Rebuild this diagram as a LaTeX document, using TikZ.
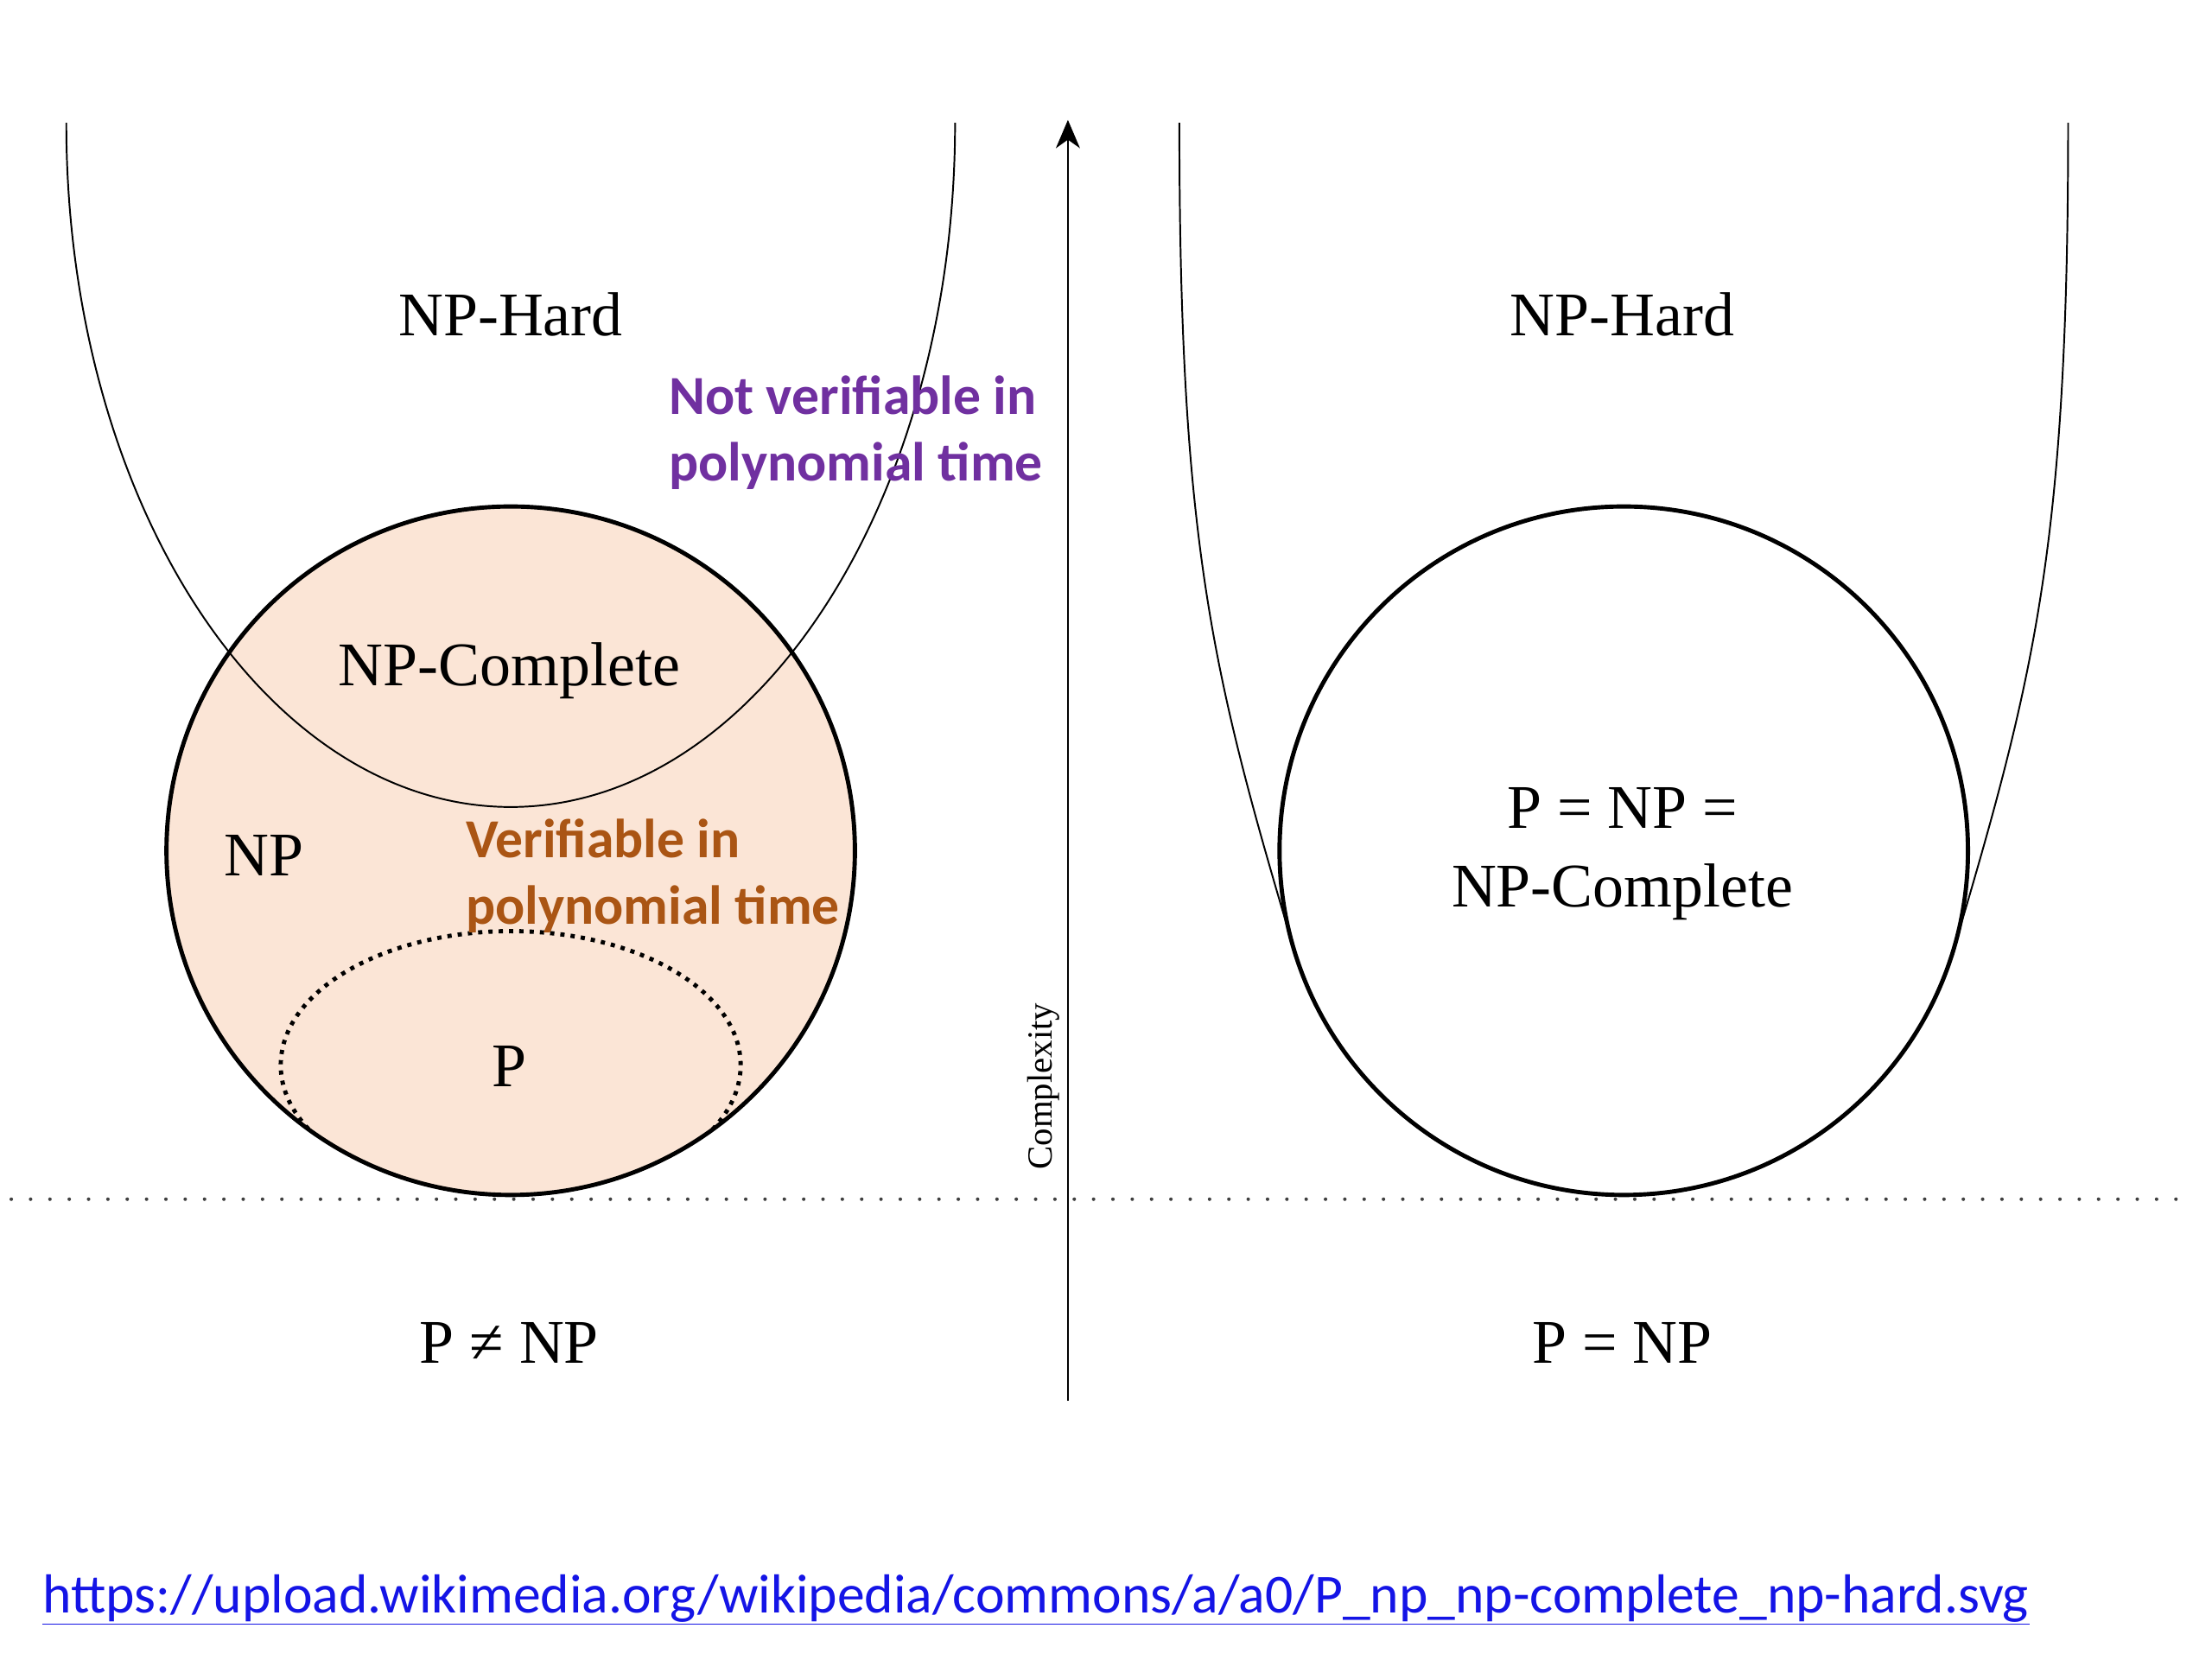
\documentclass[tikz,border=0pt]{standalone}
\usepackage{fontspec}
\setmainfont{Liberation Serif}
\newfontfamily\calibfont{Carlito}
\usetikzlibrary{arrows.meta}

\definecolor{npfill}{HTML}{FBE5D6}
\definecolor{notver}{HTML}{7030A0}
\definecolor{verif}{RGB}{170,85,20}
\definecolor{linkblue}{RGB}{20,20,230}

\tikzset{
  setlabel/.style={font=\fontsize{44}{50}\selectfont, inner sep=0pt, anchor=base},
  notelabel/.style={font=\calibfont\bfseries\fontsize{39}{46}\selectfont, inner sep=0pt, anchor=base west},
  hardline/.style={line width=1.2pt},
  setline/.style={line width=3pt},
  pdots/.style={line width=3pt, dash pattern=on 3pt off 4.3pt},
  hdots/.style={line width=2.5pt, line cap=round, dash pattern=on 0pt off 13.7pt, black!75},
}

\begin{document}
\begin{tikzpicture}[x=1pt,y=1pt]
\useasboundingbox (0,0) rectangle (1568,1176);

% left panel: P != NP
\filldraw[fill=npfill, draw=none] (362,573) circle[radius=244];
\begin{scope}
  \clip (362,573) circle[radius=244];
  \draw[pdots] (362,421) ellipse[x radius=163, y radius=95];
\end{scope}
\draw[hardline] (47,1089) arc[start angle=180, end angle=360, x radius=315, y radius=485];
\draw[setline] (362,573) circle[radius=244];

\node[setlabel] (hardL) at (362,938) {NP-Hard};
\node[setlabel] (npcL) at (361,690) {NP-Complete};
\node[setlabel] (np) at (187,555) {NP};
\node[setlabel] (p) at (361,406) {P};
\node[setlabel] (neq) at (361,210) {P ≠ NP};
\node[notelabel, text=notver] (notver1) at (474,882) {Not verifiable in};
\node[notelabel, text=notver] (notver2) at (474,835) {polynomial time};
\node[notelabel, text=verif] (verif1) at (330,568) {Verifiable in};
\node[notelabel, text=verif] (verif2) at (330,521) {polynomial time};

% complexity axis
\draw[hdots] (8,326) -- (1545,326);
\coordinate (axbot) at (757,183);
\coordinate (axtop) at (757,1091);
\draw[line width=1.6pt, -{Stealth[length=20pt, width=17pt, inset=6pt]}] (axbot) -- (axtop);
\node[font=\fontsize{25}{30}\selectfont, inner sep=0pt, anchor=base, rotate=90] (cplx) at (746,406) {Complexity};

% right panel: P = NP
\draw[hardline] (836,1089) .. controls (836,789) and (860,696) .. (917,504)
  arc[start angle=196.4, end angle=343.6, radius=244]
  .. controls (1442,696) and (1466,789) .. (1466,1089);
\draw[setline] (1151,573) circle[radius=244];

\node[setlabel] (hardR) at (1150,938) {NP-Hard};
\node[setlabel] (allEq) at (1150,589) {P = NP =};
\node[setlabel] (npcR) at (1150,533) {NP-Complete};
\node[setlabel] (eq) at (1150,210) {P = NP};

% source
\node[font=\calibfont\fontsize{39}{44}\selectfont, text=linkblue, inner sep=0pt, anchor=base west] (src) at (30,33)
  {\underline{https://upload.wikimedia.org/wikipedia/commons/a/a0/P\_np\_np-complete\_np-hard.svg}};
\end{tikzpicture}
\end{document}
